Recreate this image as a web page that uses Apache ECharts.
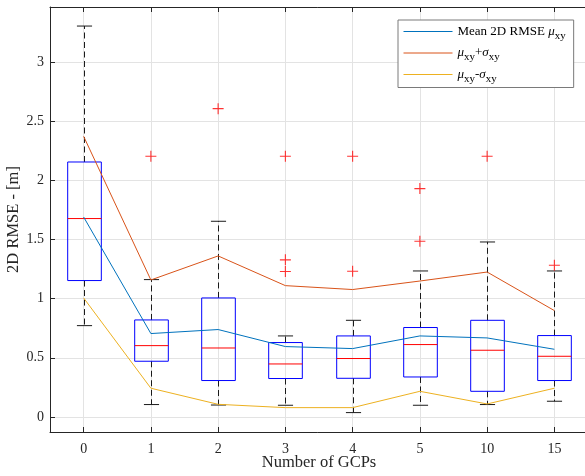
<!DOCTYPE html>
<html>
<head>
<meta charset="utf-8">
<script src="https://cdn.jsdelivr.net/npm/echarts@6/dist/echarts.min.js"></script>
<style>html,body{margin:0;padding:0;background:#fff;}#c{width:585px;height:476px;}</style>
</head>
<body>
<div id="c"></div>
<script>
const categories = ['0', '1', '2', '3', '4', '5', '10', '15'];
const lowerWhisker = [0.772, 0.105, 0.101, 0.099, 0.037, 0.099, 0.105, 0.133];
const q1 = [1.153, 0.471, 0.308, 0.325, 0.327, 0.338, 0.217, 0.308];
const median = [1.677, 0.603, 0.583, 0.448, 0.494, 0.612, 0.564, 0.513];
const q3 = [2.155, 0.820, 1.006, 0.629, 0.685, 0.756, 0.817, 0.688];
const upperWhisker = [3.304, 1.161, 1.654, 0.685, 0.817, 1.234, 1.479, 1.234];
const meanRMSE = [1.690, 0.705, 0.739, 0.595, 0.578, 0.685, 0.668, 0.572];
const meanPlusStd = [2.372, 1.158, 1.361, 1.110, 1.077, 1.149, 1.225, 0.899];
const meanMinusStd = [1.006, 0.243, 0.107, 0.079, 0.079, 0.217, 0.110, 0.243];
const outlierCategory = [1, 2, 3, 3, 3, 4, 4, 5, 5, 6, 7];
const outlierValue = [2.203, 2.606, 2.203, 1.328, 1.229, 2.203, 1.231, 1.930, 1.485, 2.203, 1.282];
const yTickStep = 0.5;

const FONT = 'Liberation Serif';
const boxData = categories.map((c, i) => [i, lowerWhisker[i], q1[i], median[i], q3[i], upperWhisker[i]]);
const outlierData = outlierCategory.map((c, i) => [c, outlierValue[i]]);

function renderBox(params, api) {
  const x = api.value(0);
  const pLw = api.coord([x, api.value(1)]);
  const pQ1 = api.coord([x, api.value(2)]);
  const pMed = api.coord([x, api.value(3)]);
  const pQ3 = api.coord([x, api.value(4)]);
  const pUw = api.coord([x, api.value(5)]);
  const band = api.size([1, 0])[0];
  const bw = band * 0.5;
  const cw = band * 0.225;
  const cx = Math.round(pMed[0]) + 0.5;
  const dash = { stroke: '#1a1a1a', lineWidth: 1, lineDash: [6, 3.5] };
  const solid = { stroke: '#1a1a1a', lineWidth: 1 };
  return {
    type: 'group',
    children: [
      { type: 'line', shape: { x1: cx, y1: pQ3[1], x2: cx, y2: pUw[1] }, style: dash },
      { type: 'line', shape: { x1: cx, y1: pQ1[1], x2: cx, y2: pLw[1] }, style: dash },
      { type: 'line', shape: { x1: cx - cw / 2, y1: pUw[1], x2: cx + cw / 2, y2: pUw[1] }, style: solid },
      { type: 'line', shape: { x1: cx - cw / 2, y1: pLw[1], x2: cx + cw / 2, y2: pLw[1] }, style: solid },
      { type: 'rect', shape: { x: cx - bw / 2, y: pQ3[1], width: bw, height: pQ1[1] - pQ3[1] },
        style: { fill: 'none', stroke: '#0000ff', lineWidth: 1 } },
      { type: 'line', shape: { x1: cx - bw / 2, y1: pMed[1], x2: cx + bw / 2, y2: pMed[1] },
        style: { stroke: '#ff0000', lineWidth: 1 } }
    ]
  };
}

const legendText = {
  mean: '{n|Mean 2D RMSE }{g|μ}{s|xy}',
  plus: '{g|μ}{s|xy}{n|+}{g|σ}{s|xy}',
  minus: '{g|μ}{s|xy}{n|-}{g|σ}{s|xy}'
};

const chart = echarts.init(document.getElementById('c'), null, { renderer: 'canvas' });
chart.setOption({
  animation: false,
  backgroundColor: '#fff',
  textStyle: { fontFamily: FONT },
  grid: { left: 50, top: 7, width: 538, height: 425, containLabel: false, outerBoundsMode: 'none' },
  legend: {
    data: ['mean', 'plus', 'minus'],
    orient: 'vertical',
    left: 398,
    top: 20,
    itemWidth: 49,
    itemHeight: 10,
    itemGap: 5,
    padding: [5, 8, 3, 5],
    backgroundColor: '#fff',
    borderColor: '#7a7a7a',
    borderWidth: 1,
    borderRadius: 0,
    selectedMode: false,
    itemStyle: { opacity: 0, borderWidth: 0 },
    lineStyle: { width: 1 },
    formatter: name => legendText[name],
    textStyle: {
      fontFamily: FONT,
      fontSize: 13,
      color: '#000',
      rich: {
        n: { fontFamily: FONT, fontSize: 13, color: '#000', lineHeight: 20 },
        g: { fontFamily: FONT, fontSize: 13, fontStyle: 'italic', color: '#000', lineHeight: 20 },
        s: { fontFamily: FONT, fontSize: 11, color: '#000', lineHeight: 11, verticalAlign: 'bottom' }
      }
    }
  },
  xAxis: [{
    type: 'category',
    data: categories,
    boundaryGap: true,
    name: 'Number of GCPs',
    nameLocation: 'middle',
    nameGap: 22,
    nameMoveOverlap: false,
    nameTextStyle: { fontFamily: FONT, fontSize: 16.5, color: '#262626' },
    axisLine: { show: true, onZero: false, lineStyle: { color: '#262626', width: 1 } },
    axisTick: { show: true, inside: true, length: 5, alignWithLabel: true, lineStyle: { color: '#262626' } },
    axisLabel: { fontFamily: FONT, fontSize: 14, color: '#262626', margin: 10 },
    splitLine: { show: true, alignWithLabel: true, lineStyle: { color: '#e3e3e3', width: 1 } }
  }, {
    type: 'category',
    data: categories,
    position: 'top',
    boundaryGap: true,
    axisLine: { show: true, onZero: false, lineStyle: { color: '#262626', width: 1 } },
    axisTick: { show: true, inside: true, length: 5, alignWithLabel: true, lineStyle: { color: '#262626' } },
    axisLabel: { show: false },
    splitLine: { show: false }
  }],
  yAxis: {
    type: 'value',
    min: -0.127,
    max: 3.465,
    splitNumber: 7,
    name: '2D RMSE - [m]',
    nameLocation: 'middle',
    nameGap: 28,
    nameMoveOverlap: false,
    nameTextStyle: { fontFamily: FONT, fontSize: 16.5, color: '#262626' },
    axisLine: { show: true, lineStyle: { color: '#262626', width: 1 } },
    axisTick: { show: true, inside: true, length: 5, lineStyle: { color: '#262626' } },
    axisLabel: {
      fontFamily: FONT, fontSize: 14, color: '#262626', margin: 6,
      formatter: v => {
        const k = v / yTickStep;
        if (Math.abs(k - Math.round(k)) > 1e-6) return '';
        return String(Math.round(k) * yTickStep);
      }
    },
    splitLine: { show: true, lineStyle: { color: '#e3e3e3', width: 1 } }
  },
  series: [
    {
      name: 'box',
      type: 'custom',
      renderItem: renderBox,
      data: boxData,
      encode: { x: 0, y: [1, 2, 3, 4, 5] },
      z: 2
    },
    {
      name: 'outliers',
      type: 'scatter',
      data: outlierData,
      symbol: 'path://M0,4.5H10V5.5H0Z M4.5,0H5.5V10H4.5Z',
      symbolSize: 11,
      itemStyle: { color: '#ff0000' },
      z: 3
    },
    {
      name: 'mean', type: 'line', data: meanRMSE, symbol: 'none', showSymbol: false,
      lineStyle: { color: '#0072BD', width: 1 }, itemStyle: { color: '#0072BD' }, z: 4
    },
    {
      name: 'plus', type: 'line', data: meanPlusStd, symbol: 'none', showSymbol: false,
      lineStyle: { color: '#D95319', width: 1 }, itemStyle: { color: '#D95319' }, z: 4
    },
    {
      name: 'minus', type: 'line', data: meanMinusStd, symbol: 'none', showSymbol: false,
      lineStyle: { color: '#EDB120', width: 1 }, itemStyle: { color: '#EDB120' }, z: 4
    }
  ]
});
</script>
</body>
</html>
